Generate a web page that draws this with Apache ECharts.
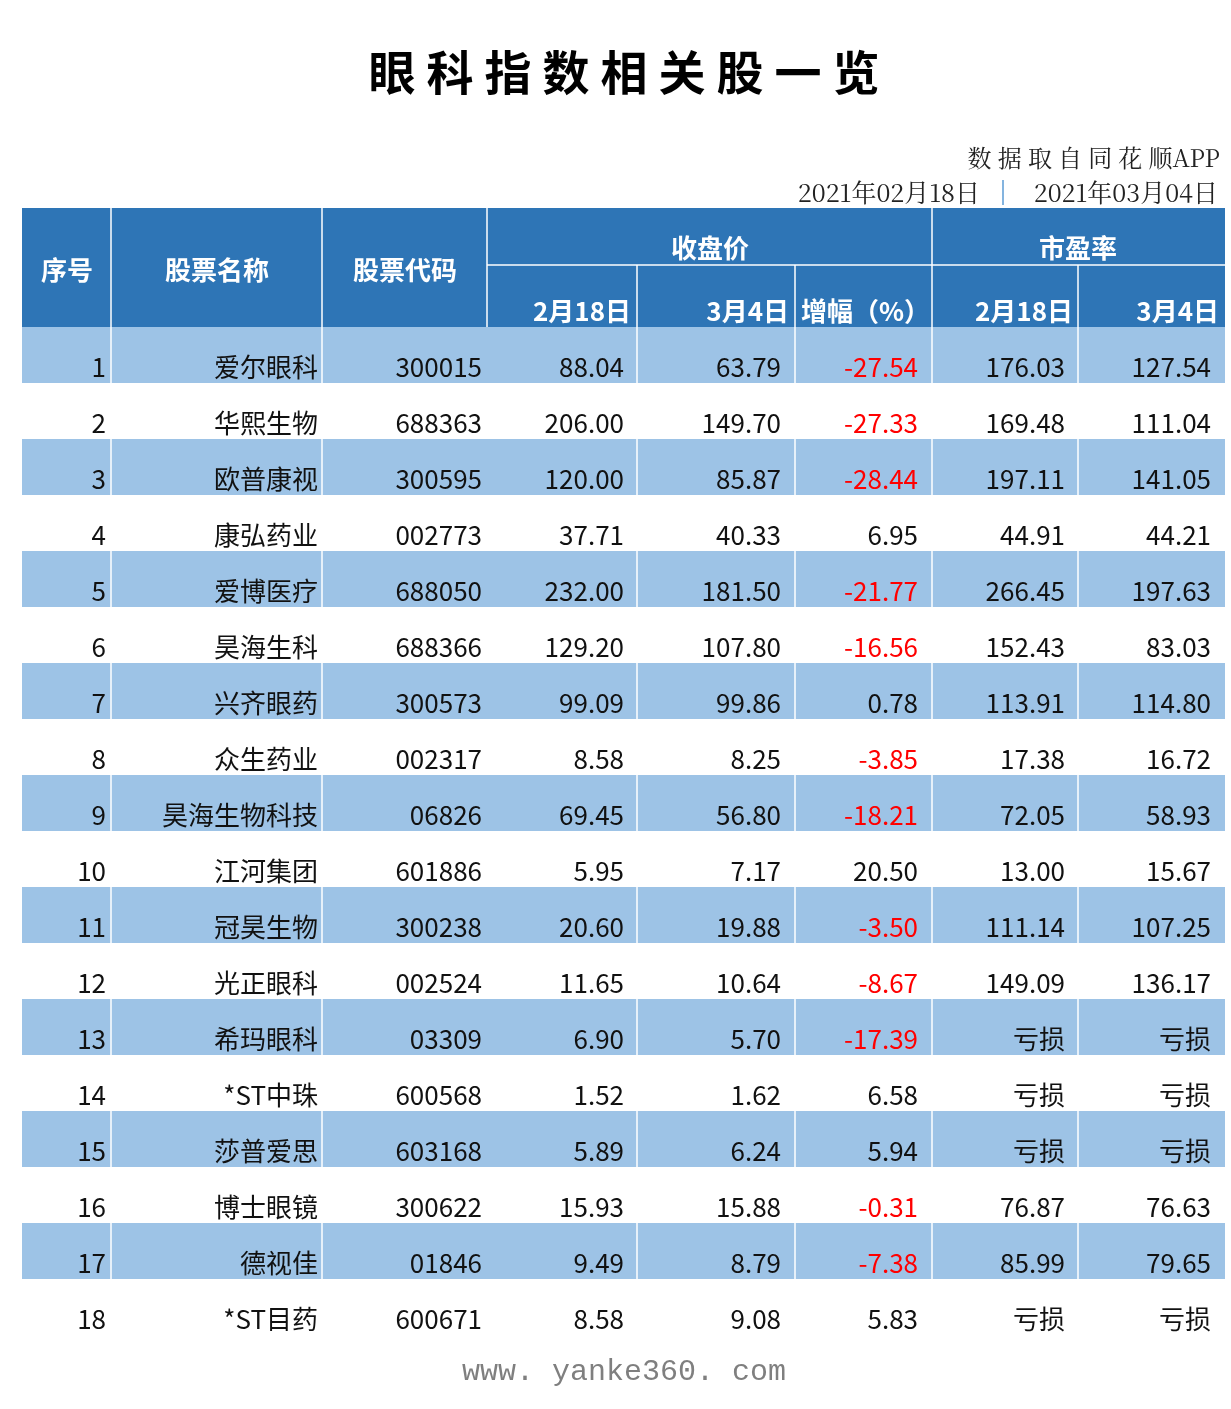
<!DOCTYPE html>
<html><head><meta charset="utf-8">
<script src="https://cdn.jsdelivr.net/npm/echarts@6/dist/echarts.min.js"></script>
<style>html,body{margin:0;padding:0;background:#fff}#c{width:1231px;height:1409px}</style>
</head><body><div id="c"></div>
<script>
const seq = ['1','2','3','4','5','6','7','8','9','10','11','12','13','14','15','16','17','18'];
const names = ['爱尔眼科','华熙生物','欧普康视','康弘药业','爱博医疗','昊海生科','兴齐眼药','众生药业','昊海生物科技','江河集团','冠昊生物','光正眼科','希玛眼科','*ST中珠','莎普爱思','博士眼镜','德视佳','*ST目药'];
const codes = ['300015','688363','300595','002773','688050','688366','300573','002317','06826','601886','300238','002524','03309','600568','603168','300622','01846','600671'];
const close0218 = ['88.04','206.00','120.00','37.71','232.00','129.20','99.09','8.58','69.45','5.95','20.60','11.65','6.90','1.52','5.89','15.93','9.49','8.58'];
const close0304 = ['63.79','149.70','85.87','40.33','181.50','107.80','99.86','8.25','56.80','7.17','19.88','10.64','5.70','1.62','6.24','15.88','8.79','9.08'];
const changePct = ['-27.54','-27.33','-28.44','6.95','-21.77','-16.56','0.78','-3.85','-18.21','20.50','-3.50','-8.67','-17.39','6.58','5.94','-0.31','-7.38','5.83'];
const pe0218 = ['176.03','169.48','197.11','44.91','266.45','152.43','113.91','17.38','72.05','13.00','111.14','149.09','亏损','亏损','亏损','76.87','85.99','亏损'];
const pe0304 = ['127.54','111.04','141.05','44.21','197.63','83.03','114.80','16.72','58.93','15.67','107.25','136.17','亏损','亏损','亏损','76.63','79.65','亏损'];
const titleText = '眼科指数相关股一览';

const L = 22;
const edges = [0, 89, 300, 465, 615, 773, 910, 1056, 1203];
const pads = [5, 4, 5, 13, 14, 14, 13, 14];
const cols = [seq, names, codes, close0218, close0304, changePct, pe0218, pe0304];

const chart = echarts.init(document.getElementById('c'));
const FONT = '"Noto Sans CJK SC","Noto Sans",sans-serif';
const SERIF = '"Noto Serif CJK SC","DejaVu Serif",' + FONT;

const graphics = [];
const tw = 58;
for (let i = 0; i < titleText.length; i++) {
  graphics.push({type:'text', x: 624 - tw*titleText.length/2 + tw*i + tw/2, y: 72,
    style:{text:titleText[i], font:'bold 47px '+FONT, fill:'#000', align:'center', verticalAlign:'middle'}});
}
function spaced(t, xRight, y, step) {
  const chars = t.split('');
  chars.forEach((ch, k) => {
    graphics.push({type:'text', x: xRight - (chars.length - 1 - k) * step, y,
      style:{text:ch, font:'24px '+SERIF, fill:'#222', align:'right', verticalAlign:'middle'}});
  });
}
graphics.push({type:'text', x:1220, y:158, style:{text:'数 据 取 自 同 花 顺APP', font:'24px '+SERIF, fill:'#222', align:'right', verticalAlign:'middle'}});
graphics.push({type:'text', x:980, y:192, style:{text:'2021年02月18日', font:'25px '+SERIF, fill:'#222', align:'right', verticalAlign:'middle'}});
graphics.push({type:'text', x:1218, y:192, style:{text:'2021年03月04日', font:'25px '+SERIF, fill:'#222', align:'right', verticalAlign:'middle'}});
graphics.push({type:'line', shape:{x1:1003,y1:180,x2:1003,y2:205}, style:{stroke:'#5B9BD5', lineWidth:1.5}});
graphics.push({type:'rect', shape:{x:L, y:208, width:1203, height:119}, style:{fill:'#2E75B6'}});
[89,300,465,910].forEach(e=>graphics.push({type:'line', shape:{x1:L+e,y1:208,x2:L+e,y2:327}, style:{stroke:'#fff', lineWidth:1.5}}));
[615,773,1056].forEach(e=>graphics.push({type:'line', shape:{x1:L+e,y1:265,x2:L+e,y2:327}, style:{stroke:'#fff', lineWidth:1.5}}));
graphics.push({type:'line', shape:{x1:L+465,y1:265,x2:L+1203,y2:265}, style:{stroke:'#fff', lineWidth:1.5}});
const hs = (t,x,y,a)=>graphics.push({type:'text', x, y, style:{text:t, font:'bold 26px '+FONT, fill:'#fff', align:a||'center', verticalAlign:'middle'}});
hs('序号',67,270); hs('股票名称',217,270); hs('股票代码',405,270);
hs('收盘价',710,248); hs('市盈率',1078,248);
hs('2月18日',631,311,'right'); hs('3月4日',789,311,'right'); hs('增幅（%）',801,311,'left');
hs('2月18日',1073,311,'right'); hs('3月4日',1219,311,'right');
graphics.push({type:'text', x:624, y:1372, style:{text:'www. yanke360. com', font:'30px "Liberation Mono","DejaVu Sans Mono",monospace', fill:'#7F7F7F', align:'center', verticalAlign:'middle'}});

chart.setOption({
  animation:false,
  grid:{left:L, right:1231-L-1203, top:327, height:18*56},
  xAxis:{type:'value', min:0, max:1203, show:false},
  yAxis:{type:'category', data:seq, inverse:true, show:false},
  series:[{
    type:'custom',
    data: seq.map((s,i)=>[0,i]),
    renderItem:(params, api)=>{
      const i = api.value(1);
      const c = api.coord([0, i]);
      const h = api.size([0, 1])[1];
      const top = c[1] - h/2, bottom = c[1] + h/2;
      const left = c[0];
      const unit = api.size([1,0])[0];
      const children = [];
      if (i % 2 === 0) {
        children.push({type:'rect', shape:{x:left, y:top, width:1203*unit, height:h}, style:{fill:'#9DC3E6'}});
        [89,300,615,773,910,1056].forEach(e=>children.push({type:'line', shape:{x1:left+e*unit,y1:top,x2:left+e*unit,y2:bottom}, style:{stroke:'#fff', lineWidth:1.5}}));
      }
      cols.forEach((col,k)=>{
        const v = col[i];
        const red = k===5 && v.charAt(0)==='-';
        children.push({type:'text', x:left+edges[k+1]*unit-pads[k], y:bottom-3,
          style:{text:v, font:'26px '+FONT, fill: red?'#FF0000':'#111', align:'right', verticalAlign:'bottom'}});
      });
      return {type:'group', children};
    }
  }],
  graphic: graphics
});
</script></body></html>
